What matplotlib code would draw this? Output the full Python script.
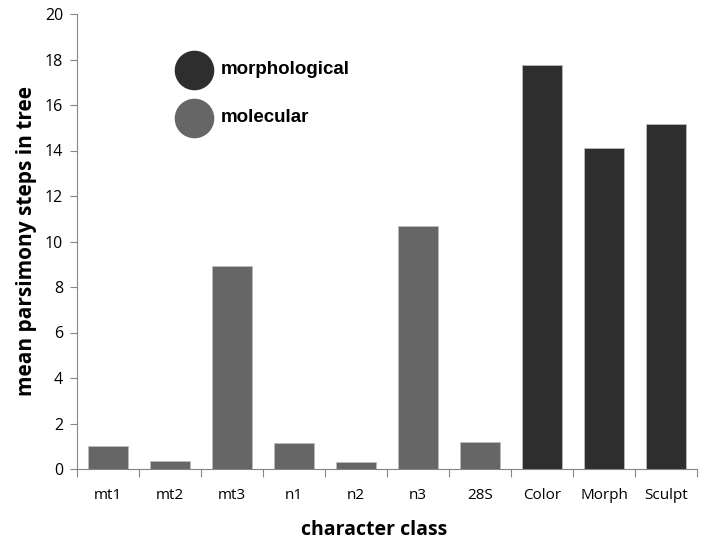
import matplotlib
matplotlib.use("Agg")
import matplotlib.pyplot as plt
import numpy as np

categories = ["mt1", "mt2", "mt3", "n1", "n2", "n3", "28S", "Color", "Morph", "Sculpt"]
values = [1.0, 0.35, 8.92, 1.14, 0.3, 10.7, 1.19, 17.76, 14.1, 15.15]
groups = ["molecular"] * 7 + ["morphological"] * 3
colors = {"molecular": "#666666", "morphological": "#2e2e2e"}

fig = plt.figure(figsize=(7.02, 5.5), dpi=100)
ax = fig.add_axes([77/702, 1-469/550, 620/702, 455/550])

x = np.arange(len(categories))
ax.bar(x, values, width=0.63, color=[colors[g] for g in groups],
       edgecolor="#bbbbbb", linewidth=0.6, zorder=2)

ax.set_xlim(-0.5, len(categories) - 0.5)
ax.set_ylim(0, 20)
ax.set_yticks(np.arange(0, 21, 2))
ax.tick_params(axis="y", labelsize=11.5, length=5, color="#868686", pad=5)

ax.set_xticks(np.arange(-0.5, len(categories), 1.0))
ax.set_xticklabels([])
ax.tick_params(axis="x", which="major", length=6, color="#868686")
ax.set_xticks(x, minor=True)
ax.set_xticklabels(categories, minor=True, fontsize=11)
ax.tick_params(axis="x", which="minor", length=0, pad=14)

for s in ["top", "right"]:
    ax.spines[s].set_visible(False)
for s in ["left", "bottom"]:
    ax.spines[s].set_color("#868686")

ax.set_xlabel("character class", fontsize=14, fontweight="bold",
              family="Open Sans")
ax.xaxis.set_label_coords(0.48, -0.112)
ax.set_ylabel("mean parsimony steps in tree", fontsize=15, fontweight="bold",
              labelpad=6, family="Open Sans")
for lab in ax.get_xticklabels(minor=True) + ax.get_yticklabels():
    lab.set_family("Open Sans")

# legend
legend_items = [("morphological", colors["morphological"]), ("molecular", colors["molecular"])]
ys = [70, 118]
for (name, c), yp in zip(legend_items, ys):
    fig.lines.append(plt.Line2D([194/702], [1-yp/550], marker="o", markersize=27.5,
                                color=c, markeredgecolor=c, transform=fig.transFigure))
    fig.text(221/702, 1-(yp-1)/550, name, fontsize=13.5, fontweight="bold",
             family="Liberation Sans", va="center", ha="left")

fig.savefig("out.png", dpi=100)
